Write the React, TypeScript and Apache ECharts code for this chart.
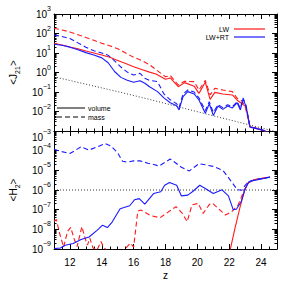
import React, { useEffect, useRef } from 'react';
import * as echarts from 'echarts';

const FONT = 'Liberation Sans, Arial, Helvetica, sans-serif';

// ---------- X axis ----------
const zMin = 11;
const zMax = 25;

// ---------- Top panel: <J21> (log10 values) ----------
const jLwVolZ = [11.0, 11.5, 12.0, 12.5, 13.0, 13.5, 14.0, 14.5, 15.0, 15.5, 16.0, 16.5, 17.0, 17.4, 18.0, 18.3, 18.8, 19.2, 19.8, 20.1, 20.5, 20.8, 21.1, 21.6, 22.2, 22.5, 22.8, 23.05, 23.3, 24.0, 24.4];
const jLwVolLog = [1.50, 1.41, 1.31, 1.22, 1.10, 1.00, 0.90, 0.78, 0.62, 0.46, 0.30, 0.15, 0.02, -0.08, -0.35, -0.28, -0.73, -0.52, -0.70, -1.07, -0.50, -1.38, -1.02, -1.10, -1.15, -1.42, -1.60, -1.75, -2.78, -2.95, -3.05];

const jLwMassZ = [11.0, 11.5, 12.0, 12.5, 13.0, 13.5, 14.0, 14.5, 15.0, 15.5, 16.0, 16.5, 17.0, 17.4, 18.0, 18.3, 18.8, 19.2, 19.8, 20.1, 20.5, 20.8, 21.1, 21.6, 22.2, 22.5, 22.8, 23.0, 23.3, 24.0, 24.4];
const jLwMassLog = [2.27, 2.18, 2.08, 1.94, 1.80, 1.65, 1.50, 1.37, 1.22, 1.00, 0.78, 0.62, 0.40, 0.15, -0.22, -0.15, -0.64, -0.45, -0.47, -0.90, -0.40, -1.15, -0.81, -0.90, -0.98, -1.32, -1.45, -1.75, -2.75, -2.92, -3.05];

const jRtZ = [11.0, 11.5, 12.0, 12.5, 13.0, 13.5, 14.0, 14.4, 14.8, 15.2, 15.6, 16.0, 16.4, 16.7, 17.0, 17.5, 17.9, 18.3, 18.7, 18.85, 19.1, 19.4, 19.8, 20.1, 20.5, 20.75, 21.0, 21.3, 21.6, 21.9, 22.2, 22.5, 22.7, 22.87, 23.06, 23.3, 24.0, 24.4];
const jRtVolLog = [1.45, 1.40, 1.30, 1.17, 1.02, 0.90, 0.75, 0.50, 0.05, -0.25, -0.40, -0.50, -0.42, -0.55, -0.73, -0.98, -1.30, -1.55, -1.70, -1.92, -1.24, -0.98, -1.10, -1.41, -2.09, -1.60, -2.20, -1.72, -1.89, -1.72, -1.82, -1.55, -1.92, -1.35, -1.75, -2.80, -2.93, -3.05];
const jRtMassLog = [1.92, 1.85, 1.74, 1.52, 1.30, 1.12, 1.00, 0.88, 0.60, 0.28, 0.02, -0.13, -0.04, -0.30, -0.40, -0.47, -1.10, -1.40, -1.60, -1.80, -1.10, -0.90, -1.00, -1.30, -1.95, -1.50, -2.05, -1.65, -1.80, -1.65, -1.75, -1.50, -1.85, -1.30, -1.70, -2.78, -2.92, -3.05];

const jCritZ = [11, 13, 15, 17, 19, 21, 23, 25];
const jCritLog = [-0.22, -0.60, -0.98, -1.38, -1.80, -2.22, -2.63, -3.05];

// ---------- Bottom panel: <H2> ----------
const hLwVolZ = [22.06, 22.36, 22.66, 22.96, 23.2, 23.6, 24.55];
const hLwVolLog = [-9.05, -7.95, -6.93, -6.0, -5.62, -5.48, -5.34];

const hLwMassZ = [11.0, 11.15, 11.35, 11.6, 11.85, 12.05, 12.25, 12.45, 12.75, 12.95, 13.1, 13.25, 13.45, 13.7, 13.95, 14.1, 14.35, 14.7, 15.0, 15.4, 15.8, 16.0, 16.26, 16.46, 17.06, 17.66, 18.26, 18.66, 19.06, 19.36, 19.66, 20.06, 20.36, 20.76, 20.96, 21.3, 21.76, 22.16, 22.56, 22.86, 23.16, 23.6, 24.55];
const hLwMassLog = [-7.6, -7.5, -8.2, -8.9, -8.11, -7.9, -8.45, -8.88, -7.86, -8.45, -8.8, -8.45, -8.95, -9.05, -8.62, -8.9, -9.1, -9.05, -9.1, -9.05, -8.7, -8.9, -7.07, -7.02, -7.30, -7.41, -7.07, -6.85, -7.19, -7.61, -6.76, -6.68, -7.19, -6.73, -6.68, -6.93, -7.27, -7.10, -6.76, -6.17, -5.66, -5.47, -5.34];

const hRtVolZ = [11.0, 11.4, 11.7, 12.2, 12.7, 13.2, 13.7, 14.05, 14.35, 14.65, 15.15, 15.75, 16.05, 16.35, 16.7, 17.25, 17.7, 17.95, 18.25, 18.7, 19.0, 19.4, 19.75, 20.15, 20.5, 21.0, 21.55, 21.95, 22.25, 22.45, 22.75, 23.0, 23.25, 23.65, 24.55];
const hRtVolLog = [-8.98, -8.95, -8.81, -8.72, -8.52, -8.39, -8.05, -7.79, -7.91, -7.63, -6.95, -6.80, -6.50, -6.44, -6.72, -6.18, -6.09, -5.76, -5.62, -5.76, -6.30, -6.26, -6.05, -5.76, -5.92, -6.18, -5.99, -6.30, -7.0, -6.98, -6.6, -5.95, -5.57, -5.50, -5.35];

const hRtMassZ = [11.0, 11.5, 12.0, 12.3, 12.7, 13.2, 13.7, 14.2, 14.6, 15.0, 15.3, 15.6, 16.0, 16.4, 16.9, 17.2, 17.6, 18.3, 19.0, 19.5, 20.1, 20.5, 21.0, 21.6, 22.0, 22.5, 22.8, 23.0, 23.2, 23.6, 24.6];
const hRtMassLog = [-3.93, -4.05, -4.14, -4.0, -3.80, -3.97, -3.81, -3.64, -3.78, -4.12, -4.54, -4.58, -4.52, -4.52, -4.64, -4.69, -4.78, -4.42, -4.84, -5.03, -4.66, -4.72, -4.80, -5.00, -5.42, -5.98, -6.01, -5.76, -5.59, -5.47, -5.34];

const hCritZ = [11, 25];
const hCritLog = [-6, -6];

const RED = '#ff1a1a';
const BLUE = '#1a1aff';

const pairs = (z: number[], lg: number[]) => z.map((x, i) => [x, Math.pow(10, lg[i])]);

const sup = (v: number) => {
  const e = Math.round(Math.log10(v));
  return '{b|10}{s|' + (e < 0 ? '\u2212' + -e : String(e)) + '}';
};

const labelRich = {
  b: { fontSize: 10, lineHeight: 18, fontFamily: FONT, color: '#000' },
  s: { fontSize: 7, lineHeight: 7, verticalAlign: 'top', fontFamily: FONT, color: '#000' },
  g: { fontSize: 1, lineHeight: 12 },
};

const GRID_L = 44;
const GRID_W = 233;

function xAxes(gridIndex: number, position: 'top' | 'bottom', withLabels: boolean) {
  const major: any = {
    type: 'value', gridIndex, position, min: zMin, max: zMax,
    splitNumber: 7, minInterval: 2, maxInterval: 2,
    axisLine: { show: true, onZero: false, lineStyle: { color: '#000', width: 1 } },
    axisTick: { show: true, inside: true, length: 5, lineStyle: { color: '#000', width: 1 } },
    splitLine: { show: false },
    axisLabel: withLabels
      ? { show: true, fontSize: 10, fontFamily: FONT, color: '#000', margin: 8, showMinLabel: false, showMaxLabel: false }
      : { show: false },
  };
  if (withLabels) {
    major.name = 'z';
    major.nameLocation = 'middle';
    major.nameGap = 21;
    major.nameTextStyle = { fontSize: 10, fontFamily: FONT, color: '#000' };
  }
  const minor: any = {
    type: 'value', gridIndex, position, min: zMin, max: zMax, interval: 0.5,
    axisLine: { show: false, onZero: false },
    axisTick: { show: true, inside: true, length: 2.5, lineStyle: { color: '#000', width: 1 } },
    splitLine: { show: false },
    axisLabel: { show: false },
  };
  return [major, minor];
}

function yAxis(gridIndex: number, position: 'left' | 'right', min: number, max: number, name?: string, which?: 'top' | 'bottom') {
  const ax: any = {
    type: 'log', logBase: 10, gridIndex, position, min, max,
    axisLine: { show: true, onZero: false, lineStyle: { color: '#000', width: 1 } },
    axisTick: { show: true, inside: true, length: 5, lineStyle: { color: '#000', width: 1 } },
    minorTick: { show: true, splitNumber: 9, length: 2.5, lineStyle: { color: '#000', width: 1 } },
    splitLine: { show: false },
    minorSplitLine: { show: false },
    axisLabel: { show: false },
  };
  if (name) {
    ax.axisLabel = {
      show: true, margin: 3, align: 'right',
      formatter: (v: number) => {
        const e = Math.round(Math.log10(v));
        if (which === 'top' && e === -3) return sup(v) + '\n{g| }';
        if (which === 'bottom' && e === -3) return '{g| }\n' + sup(v);
        return sup(v);
      },
      rich: labelRich,
    };
    ax.name = name;
    ax.nameLocation = 'middle';
    ax.nameRotate = 90;
    ax.nameGap = 26;
    ax.nameTextStyle = {
      rich: {
        a: { fontSize: 10, lineHeight: 16, fontFamily: FONT, color: '#000' },
        u: { fontSize: 7, lineHeight: 7, verticalAlign: 'bottom', fontFamily: FONT, color: '#000' },
      },
    };
  }
  return ax;
}

function line(name: string, data: number[][], xIdx: number, yIdx: number, color: string, type: any, width = 1.1) {
  return {
    name, type: 'line', xAxisIndex: xIdx, yAxisIndex: yIdx, data,
    symbol: 'none', clip: true, silent: true,
    lineStyle: { color, width, type },
  };
}

const DASH = [5, 3];
const DOT = [1, 2];

const option: any = {
  animation: false,
  backgroundColor: '#fff',
  grid: [
    { left: GRID_L, top: 14, width: GRID_W, height: 117, containLabel: false },
    { left: GRID_L, top: 131, width: GRID_W, height: 118, containLabel: false },
  ],
  xAxis: [
    ...xAxes(0, 'bottom', false),
    ...xAxes(0, 'top', false),
    ...xAxes(1, 'bottom', true),
    ...xAxes(1, 'top', false),
  ],
  yAxis: [
    yAxis(0, 'left', 1e-3, 1e3, '{a|<J}{u|21}{a|>}', 'top'),
    yAxis(0, 'right', 1e-3, 1e3),
    yAxis(1, 'left', 1e-9, 1e-3, '{a|<H}{u|2}{a|>}', 'bottom'),
    yAxis(1, 'right', 1e-9, 1e-3),
  ],
  series: [
    line('Jcrit', pairs(jCritZ, jCritLog), 0, 0, '#222', DOT, 0.9),
    line('LW vol', pairs(jLwVolZ, jLwVolLog), 0, 0, RED, 'solid'),
    line('LW mass', pairs(jLwMassZ, jLwMassLog), 0, 0, RED, DASH),
    line('RT vol', pairs(jRtZ, jRtVolLog), 0, 0, BLUE, 'solid'),
    line('RT mass', pairs(jRtZ, jRtMassLog), 0, 0, BLUE, DASH),
    line('Hcrit', pairs(hCritZ, hCritLog), 4, 2, '#222', DOT, 0.9),
    line('H LW vol', pairs(hLwVolZ, hLwVolLog), 4, 2, RED, 'solid'),
    line('H LW mass', pairs(hLwMassZ, hLwMassLog), 4, 2, RED, DASH),
    line('H RT vol', pairs(hRtVolZ, hRtVolLog), 4, 2, BLUE, 'solid'),
    line('H RT mass', pairs(hRtMassZ, hRtMassLog), 4, 2, BLUE, DASH),
  ],
  graphic: [
    { type: 'text', x: 229, y: 29, style: { text: 'LW', align: 'right', verticalAlign: 'middle', fontSize: 7, fontFamily: FONT, fill: '#000' } },
    { type: 'line', shape: { x1: 234, y1: 29, x2: 265, y2: 29 }, style: { stroke: RED, lineWidth: 1.2 } },
    { type: 'text', x: 229, y: 37, style: { text: 'LW+RT', align: 'right', verticalAlign: 'middle', fontSize: 7, fontFamily: FONT, fill: '#000' } },
    { type: 'line', shape: { x1: 234, y1: 37, x2: 265, y2: 37 }, style: { stroke: BLUE, lineWidth: 1.2 } },
    { type: 'line', shape: { x1: 57, y1: 108, x2: 85, y2: 108 }, style: { stroke: '#000', lineWidth: 1 } },
    { type: 'text', x: 88, y: 108, style: { text: 'volume', align: 'left', verticalAlign: 'middle', fontSize: 7, fontFamily: FONT, fill: '#000' } },
    { type: 'line', shape: { x1: 57, y1: 117, x2: 85, y2: 117 }, style: { stroke: '#000', lineWidth: 1, lineDash: DASH } },
    { type: 'text', x: 88, y: 117, style: { text: 'mass', align: 'left', verticalAlign: 'middle', fontSize: 7, fontFamily: FONT, fill: '#000' } },
  ],
};

export default function App() {
  const ref = useRef<HTMLDivElement>(null);
  useEffect(() => {
    if (!ref.current) return;
    const chart = echarts.init(ref.current, null, { renderer: 'svg' });
    chart.setOption(option);
    return () => chart.dispose();
  }, []);
  return (
    <div
      ref={ref}
      style={{ position: 'absolute', left: 0, top: 0, width: 293, height: 293, background: '#fff' }}
    />
  );
}
